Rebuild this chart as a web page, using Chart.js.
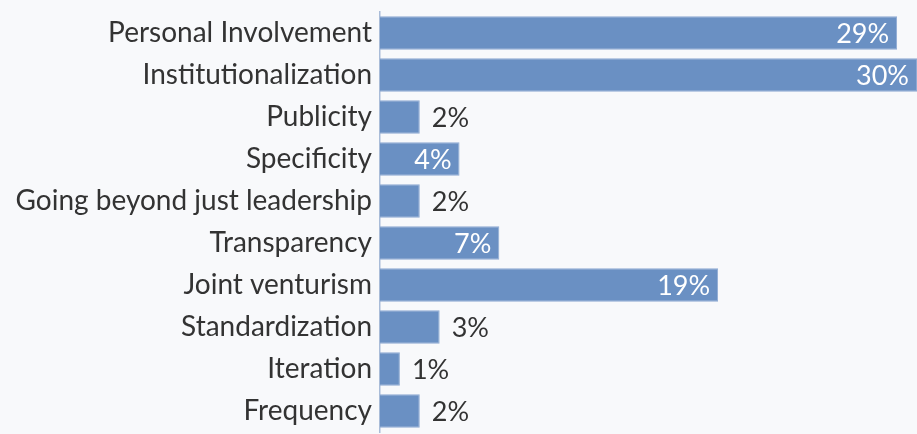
<!DOCTYPE html>
<html>
<head>
<meta charset="utf-8">
<script src="https://cdn.jsdelivr.net/npm/chart.js@4"></script>
<style>
  html, body { margin: 0; padding: 0; background: #f8f9fb; }
  #wrap { width: 917px; height: 434px; position: relative; }
</style>
</head>
<body>
<div id="wrap"><canvas id="chart"></canvas></div>
<script>
  var CATEGORIES = ['Personal Involvement', 'Institutionalization', 'Publicity', 'Specificity',
    'Going beyond just leadership', 'Transparency', 'Joint venturism', 'Standardization',
    'Iteration', 'Frequency'];
  var COUNTS = [26, 27, 2, 4, 2, 6, 17, 3, 1, 2];
  var X_MAX = 27;

  var FONT = "Lato, 'Open Sans', sans-serif";
  var BAR = '#6a90c3';
  var TEXT = '#333333';

  var total = COUNTS.reduce(function (a, b) { return a + b; }, 0);

  var valueLabels = {
    id: 'valueLabels',
    afterDatasetsDraw: function (chart) {
      var ctx = chart.ctx;
      var meta = chart.getDatasetMeta(0);
      ctx.save();
      ctx.font = '27px ' + FONT;
      ctx.textBaseline = 'middle';
      meta.data.forEach(function (bar, i) {
        var v = COUNTS[i];
        var txt = Math.round(v / total * 100) + '%';
        if (v >= 4) {
          ctx.fillStyle = '#ffffff';
          ctx.textAlign = 'right';
          ctx.fillText(txt, bar.x - 8, bar.y + 1);
        } else {
          ctx.fillStyle = TEXT;
          ctx.textAlign = 'left';
          ctx.fillText(txt, bar.x + 12, bar.y + 1);
        }
      });
      ctx.restore();
    }
  };

  new Chart(document.getElementById('chart'), {
    type: 'bar',
    data: {
      labels: CATEGORIES,
      datasets: [{
        data: COUNTS,
        backgroundColor: BAR,
        borderColor: '#8eaad3',
        borderWidth: 1,
        borderSkipped: 'start',
        barPercentage: 0.8,
        categoryPercentage: 1
      }]
    },
    options: {
      indexAxis: 'y',
      responsive: true,
      maintainAspectRatio: false,
      animation: false,
      layout: { padding: { top: 12, bottom: 2, left: 0, right: 0 } },
      plugins: { legend: { display: false }, tooltip: { enabled: false } },
      scales: {
        x: {
          min: 0,
          max: X_MAX,
          display: false
        },
        y: {
          grid: { display: false, drawTicks: false },
          border: { display: true, color: '#a9bcd8', width: 1.5 },
          ticks: { color: TEXT, padding: 8, font: { family: FONT, size: 28 } },
          afterFit: function (scale) {
            scale.width = 380;
            scale.paddingTop = 0;
            scale.paddingBottom = 0;
          }
        }
      }
    },
    plugins: [valueLabels]
  });
</script>
</body>
</html>
